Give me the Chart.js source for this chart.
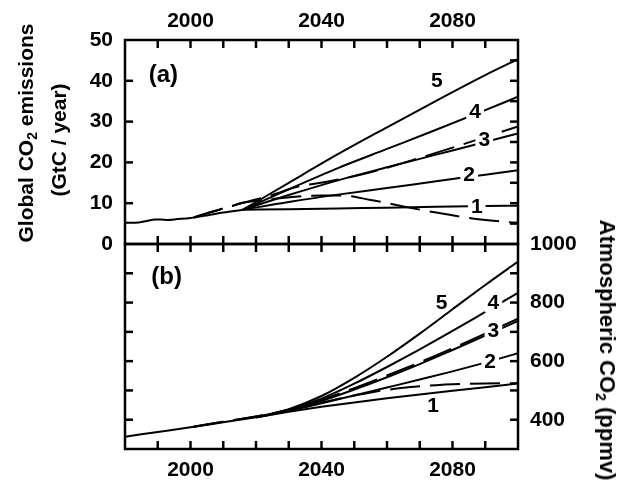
<!DOCTYPE html>
<html>
<head>
<meta charset="utf-8">
<title>Global CO2 emissions and atmospheric CO2</title>
<script src="https://cdn.jsdelivr.net/npm/chart.js@4.4.0/dist/chart.umd.min.js"></script>
<style>
  body { margin: 0; background: #fff; }
  #wrap { position: relative; width: 626px; height: 481px; overflow: hidden;
          font-family: "Liberation Sans", Arial, sans-serif; font-weight: bold; color: #000; }
  canvas { position: absolute; left: 0; top: 0; }
  .title { position: absolute; white-space: nowrap; font-size: 21px; line-height: 1;
           transform: translate(-50%, -50%) rotate(-90deg); }
  .title.right { font-size: 22px; transform: translate(-50%, -50%) rotate(90deg); }
  .title sub { font-size: 14px; vertical-align: -4px; line-height: 0; }
</style>
</head>
<body>
<div id="wrap">
  <canvas id="emisChart" width="626" height="481"></canvas>
  <canvas id="co2Chart" width="626" height="481"></canvas>
  <div class="title" style="left:25px; top:133px;">Global CO<sub>2</sub> emissions</div>
  <div class="title" style="left:58px; top:140px;">(GtC / year)</div>
  <div class="title right" style="left:607px; top:350px;">Atmospheric CO<sub>2</sub> (ppmv)</div>
</div>
<script>
const yearMin = 1980, yearMax = 2100;
const yearLabels = [2000, 2040, 2080];

// (a) emissions, GtC / year
const emisHistYears = [1980, 1983, 1987, 1989, 1991, 1993, 1996, 2000, 2005, 2010, 2016];
const emisHist = [5.2, 5.2, 5.7, 6.0, 6.0, 5.9, 6.1, 6.4, 7.0, 7.7, 8.4];
const emisScenYears = [2016, 2030, 2045, 2060, 2075, 2090, 2100];
const emis1 = [8.4, 8.5, 8.7, 8.9, 9.1, 9.3, 9.4];
const emis2 = [8.4, 10.3, 12.1, 13.7, 15.4, 17.0, 18.1];
const emis3 = [8.4, 12.0, 15.6, 18.8, 21.9, 25.0, 27.1];
const emis4 = [8.4, 13.4, 18.6, 23.3, 28.0, 32.8, 36.1];
const emis5 = [8.4, 15.0, 22.0, 28.6, 35.1, 41.4, 45.3];
const emisDash3Years = [2001, 2006, 2011, 2016, 2025, 2032, 2042, 2055, 2070, 2085, 2100];
const emisDash3 = [6.5, 7.8, 8.9, 10.1, 12.0, 13.9, 15.3, 17.6, 21.1, 24.9, 28.8];
const emisDashLowYears = [2001, 2006, 2011, 2016, 2025, 2032, 2040, 2046, 2055, 2065, 2075, 2085, 2095, 2100];
const emisDashLow = [6.5, 7.8, 8.9, 10.1, 11.0, 11.6, 11.9, 11.9, 10.8, 9.2, 7.7, 6.4, 5.5, 5.2];

// (b) atmospheric CO2, ppmv
const co2HistYears = [1980, 1990, 2000, 2010, 2020];
const co2Hist = [342, 358, 374, 391, 408];
const co2ScenYears = [2020, 2030, 2040, 2050, 2060, 2070, 2080, 2090, 2100];
const co2_1 = [408, 427, 444, 459, 473, 486, 499, 511, 524];
const co2_2 = [408, 430, 456, 483, 510, 537, 565, 595, 627];
const co2_3 = [408, 432, 464, 503, 545, 590, 638, 687, 737];
const co2_4 = [408, 434, 472, 523, 580, 640, 703, 768, 833];
const co2_5 = [408, 436, 481, 543, 615, 694, 777, 860, 940];
const co2Dash3Years = [2001, 2010, 2020, 2030, 2040, 2050, 2060, 2070, 2080, 2090, 2100];
const co2Dash3 = [376, 393, 411, 434, 468, 508, 551, 596, 644, 694, 745];
const co2DashLowYears = [2001, 2010, 2020, 2030, 2040, 2045, 2050, 2055, 2060, 2065, 2070, 2075, 2080, 2090, 2100];
const co2DashLow = [376, 393, 411, 432, 458, 471, 483, 493, 502, 509, 514, 518, 521, 524, 525];
const co2TickLabels = [400, 600, 800, 1000];

// curve numbers, placed in data units
const labelsA = [
  { text: '(a)', year: 1991.7, value: 41.4, size: 24, gap: false },
  { text: '5', year: 2075.2, value: 39.8, size: 21, gap: false },
  { text: '4', year: 2086.9, value: 32.2, size: 21, gap: true },
  { text: '3', year: 2089.7, value: 25.5, size: 21, gap: true },
  { text: '2', year: 2085.1, value: 16.9, size: 21, gap: true },
  { text: '1', year: 2087.4, value: 9.1, size: 21, gap: true }
];
const labelsB = [
  { text: '(b)', year: 1992.7, value: 886, size: 24, gap: false },
  { text: '5', year: 2076.7, value: 797, size: 21, gap: false },
  { text: '4', year: 2092.5, value: 797, size: 21, gap: true },
  { text: '3', year: 2092.5, value: 701, size: 21, gap: true },
  { text: '2', year: 2091.5, value: 598, size: 21, gap: true },
  { text: '1', year: 2074.1, value: 445, size: 21, gap: false }
];

const FONT = '"Liberation Sans", Arial, sans-serif';
const TICK = 8;

Chart.defaults.font.family = FONT;
Chart.defaults.font.size = 21;
Chart.defaults.font.weight = 'bold';
Chart.defaults.color = '#000';

function points(xs, ys) {
  return xs.map((x, i) => ({ x: x, y: ys[i] }));
}

function line(xs, ys, dashed) {
  return {
    data: points(xs, ys),
    borderColor: '#000',
    borderWidth: 2,
    borderDash: dashed ? [30, 10] : [],
    pointRadius: 0,
    cubicInterpolationMode: 'monotone',
    fill: false
  };
}

function xScale(position, pad, height) {
  return {
    type: 'linear',
    position: position,
    min: yearMin,
    max: yearMax,
    afterFit: s => { s.height = height; },
    grid: { display: false, drawTicks: false },
    border: { display: false },
    ticks: {
      stepSize: 10, autoSkip: false, maxRotation: 0, minRotation: 0, padding: pad,
      callback: v => yearLabels.includes(v) ? String(v) : ''
    }
  };
}

function seg(ctx, x1, y1, x2, y2) {
  ctx.beginPath();
  ctx.moveTo(x1, y1);
  ctx.lineTo(x2, y2);
  ctx.stroke();
}

// box, inward ticks and curve numbers
function makeFrame(leftStep, rightStep, labels) {
  return {
    id: 'frame',
    afterDraw(chart) {
      const ctx = chart.ctx, a = chart.chartArea;
      const x = chart.scales.x, y = chart.scales.y;
      ctx.save();
      ctx.setLineDash([]);

      ctx.textAlign = 'center';
      ctx.textBaseline = 'middle';
      labels.forEach(l => {
        const px = x.getPixelForValue(l.year), py = y.getPixelForValue(l.value);
        ctx.font = 'bold ' + l.size + 'px ' + FONT;
        if (l.gap) {
          const w = ctx.measureText(l.text).width + 6;
          ctx.fillStyle = '#fff';
          ctx.fillRect(px - w / 2, py - 9, w, 18);
        }
        ctx.fillStyle = '#000';
        ctx.fillText(l.text, px, py);
      });

      ctx.strokeStyle = '#000';
      ctx.lineWidth = 2.5;
      ctx.lineCap = 'butt';
      for (let yr = yearMin + 10; yr < yearMax; yr += 10) {
        const px = x.getPixelForValue(yr);
        seg(ctx, px, a.top, px, a.top + TICK);
        seg(ctx, px, a.bottom, px, a.bottom - TICK);
      }
      for (let v = y.min + leftStep; v < y.max; v += leftStep) {
        const py = y.getPixelForValue(v);
        seg(ctx, a.left, py, a.left + TICK, py);
      }
      for (let v = y.min + rightStep; v < y.max; v += rightStep) {
        const py = y.getPixelForValue(v);
        seg(ctx, a.right, py, a.right - TICK, py);
      }
      ctx.strokeRect(a.left, a.top, a.right - a.left, a.bottom - a.top);
      ctx.restore();
    }
  };
}

const baseOptions = {
  responsive: false,
  animation: false,
  devicePixelRatio: 1,
  plugins: { legend: { display: false }, tooltip: { enabled: false } }
};

// Emissions panel
new Chart(document.getElementById('emisChart'), {
  type: 'line',
  data: {
    datasets: [
      line(emisHistYears, emisHist),
      line(emisScenYears, emis1),
      line(emisScenYears, emis2),
      line(emisScenYears, emis3),
      line(emisScenYears, emis4),
      line(emisScenYears, emis5),
      line(emisDash3Years, emisDash3, true),
      line(emisDashLowYears, emisDashLow, true)
    ]
  },
  options: Object.assign({}, baseOptions, {
    layout: { padding: { left: 0, right: 108, top: 0, bottom: 237 } },
    scales: {
      x: xScale('top', 6, 40),
      y: {
        type: 'linear', position: 'left', min: 0, max: 50,
        afterFit: s => { s.width = 125; },
        grid: { display: false, drawTicks: false },
        border: { display: false },
        ticks: { stepSize: 10, padding: 12 }
      }
    }
  }),
  plugins: [makeFrame(10, 5, labelsA)]
});

// CO2 concentration panel
new Chart(document.getElementById('co2Chart'), {
  type: 'line',
  data: {
    datasets: [
      line(co2HistYears, co2Hist),
      line(co2ScenYears, co2_1),
      line(co2ScenYears, co2_2),
      line(co2ScenYears, co2_3),
      line(co2ScenYears, co2_4),
      line(co2ScenYears, co2_5),
      line(co2Dash3Years, co2Dash3, true),
      line(co2DashLowYears, co2DashLow, true)
    ]
  },
  options: Object.assign({}, baseOptions, {
    layout: { padding: { left: 125, right: 0, top: 244, bottom: 0 } },
    scales: {
      x: xScale('bottom', 9, 32),
      y: {
        type: 'linear', position: 'right', min: 300, max: 1000,
        afterFit: s => { s.width = 108; },
        grid: { display: false, drawTicks: false },
        border: { display: false },
        ticks: {
          stepSize: 100, padding: 12,
          callback: v => co2TickLabels.includes(v) ? String(v) : ''
        }
      }
    }
  }),
  plugins: [makeFrame(100, 100, labelsB)]
});
</script>
</body>
</html>
